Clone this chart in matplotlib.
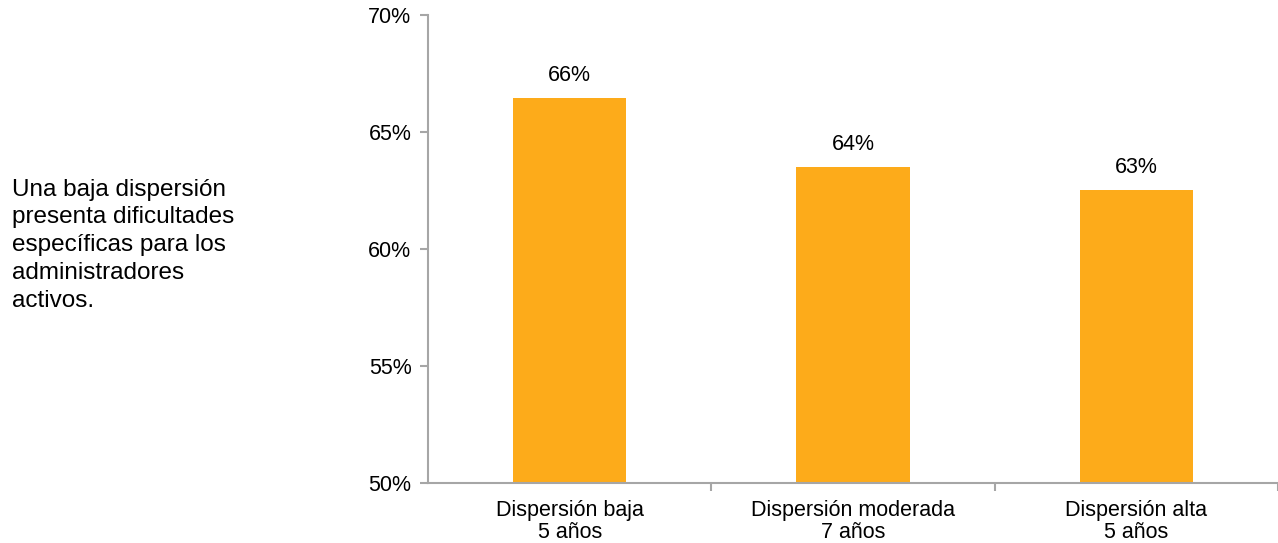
import matplotlib
matplotlib.use('Agg')
import matplotlib.pyplot as plt
from matplotlib.ticker import FixedLocator, FuncFormatter

plt.rcParams['font.family'] = ['Liberation Sans', 'DejaVu Sans']

# datos
categorias = ['Dispersión baja\n5 años', 'Dispersión moderada\n7 años', 'Dispersión alta\n5 años']
valores = [66.45, 63.5, 62.5]
etiquetas = ['66%', '64%', '63%']
nota = 'Una baja dispersión\npresenta dificultades\nespecíficas para los\nadministradores\nactivos.'

color_barra = '#FDAB1A'
color_eje = '#A6A6A6'

fig = plt.figure(figsize=(12.78, 5.43), dpi=100)
ax = fig.add_axes([0.335, 0.1105, 0.665, 0.862])

x = list(range(len(categorias)))
barras = ax.bar(x, valores, width=0.4, color=color_barra, zorder=2)

for b, et in zip(barras, etiquetas):
    ax.annotate(et, (b.get_x() + b.get_width() / 2, b.get_height()),
                xytext=(0, 9), textcoords='offset points',
                ha='center', va='bottom', fontsize=15.5, color='black')

ax.set_ylim(50, 70)
ax.set_xlim(-0.5, len(categorias) - 0.5)
ax.set_yticks([50, 55, 60, 65, 70])
ax.yaxis.set_major_formatter(FuncFormatter(lambda v, p: f'{v:.0f}%'))
ax.set_xticks(x)
ax.set_xticklabels(categorias, fontsize=15.5, linespacing=1.1)
ax.xaxis.set_minor_locator(FixedLocator([0.5, 1.5, 2.5]))

ax.tick_params(axis='x', which='major', length=0, pad=12)
ax.tick_params(axis='x', which='minor', length=6, width=1.5, color=color_eje)
ax.tick_params(axis='y', length=6, width=1.5, color=color_eje, labelsize=15.5, pad=6)

for s in ['top', 'right']:
    ax.spines[s].set_visible(False)
for s in ['left', 'bottom']:
    ax.spines[s].set_color(color_eje)
    ax.spines[s].set_linewidth(1.5)

fig.text(0.0094, 0.548, nota, ha='left', va='center', fontsize=17.5, linespacing=1.35)

fig.savefig('out.png', dpi=100)
